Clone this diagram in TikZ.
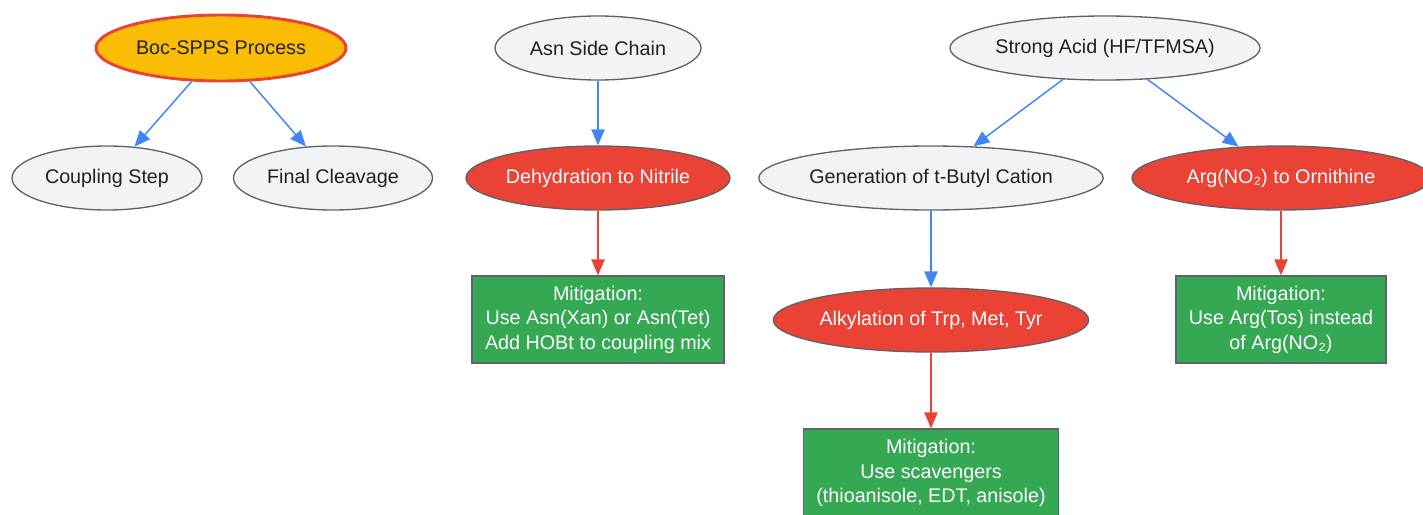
\documentclass[tikz,border=0pt]{standalone}
\usepackage{fontspec}
\setmainfont{Liberation Sans}
\usepackage{tikz}
\usetikzlibrary{arrows.meta,positioning,shapes.geometric}

\definecolor{gfill}{HTML}{F1F3F4}
\definecolor{gline}{HTML}{5F6368}
\definecolor{gtext}{HTML}{202124}
\definecolor{rfill}{HTML}{EA4335}
\definecolor{yfill}{HTML}{FBBC04}
\definecolor{grfill}{HTML}{34A853}
\definecolor{bline}{HTML}{4285F4}

\begin{document}
\begin{tikzpicture}[x=0.75pt, y=0.75pt,
    >={Triangle[length=12pt,width=10pt]},
    every node/.style={font=\fontsize{14.8}{18.4}\selectfont, align=center, inner sep=0pt},
    plain/.style={ellipse, draw=gline, line width=1pt, fill=gfill, text=gtext, minimum height=48pt},
    issue/.style={ellipse, draw=gline, line width=1pt, fill=rfill, text=white, minimum height=48pt},
    fix/.style={rectangle, draw=gline, line width=1pt, fill=grfill, text=white, minimum height=65.25pt},
    flow/.style={->, color=bline, line width=1.1pt},
    bad/.style={->, color=rfill, line width=1.1pt}]
  \useasboundingbox (0,0) rectangle (1423,-514);

  % left branch
  \node[ellipse, draw=rfill, line width=2.2pt, fill=yfill, text=gtext,
        minimum width=187.5pt, minimum height=49.5pt] (boc) at (221,-48) {Boc-SPPS Process};
  \node[plain, minimum width=142.5pt] (coupling) at (107,-178) {Coupling Step};
  \node[plain, minimum width=149.25pt] (cleavage) at (333,-178) {Final Cleavage};

  % asparagine
  \node[plain, minimum width=154.5pt] (asn) at (598,-48) {Asn Side Chain};
  \node[issue, minimum width=198pt] (nitrile) at (598,-178) {Dehydration to Nitrile};
  \node[fix, minimum width=189pt] (fixasn) at (598,-319.5)
    {Mitigation:\\Use Asn(Xan) or Asn(Tet)\\Add HOBt to coupling mix};

  % strong acid
  \node[plain, minimum width=232.5pt] (acid) at (1105,-48) {Strong Acid (HF/TFMSA)};
  \node[plain, minimum width=253.5pt] (butyl) at (931,-178) {Generation of t-Butyl Cation};
  \node[issue, minimum width=223.5pt] (orn) at (1281,-178) {Arg(NO₂) to Ornithine};
  \node[issue, minimum width=232.5pt] (alkyl) at (931,-320) {Alkylation of Trp, Met, Tyr};
  \node[fix, minimum width=191.25pt, minimum height=66pt] (fixalkyl) at (931,-473)
    {Mitigation:\\Use scavengers\\(thioanisole, EDT, anisole)};
  \node[fix, minimum width=157.5pt] (fixarg) at (1281,-319.5)
    {Mitigation:\\Use Arg(Tos) instead\\of Arg(NO₂)};

  \draw[flow] (boc) edge (coupling);
  \draw[flow] (boc) edge (cleavage);
  \draw[flow] (asn) edge (nitrile);
  \draw[bad] (nitrile) edge (fixasn);
  \draw[flow] (acid) edge (butyl);
  \draw[flow] (acid) edge (orn);
  \draw[flow] (butyl) edge (alkyl);
  \draw[bad] (alkyl) edge (fixalkyl);
  \draw[bad] (orn) edge (fixarg);
\end{tikzpicture}
\end{document}
